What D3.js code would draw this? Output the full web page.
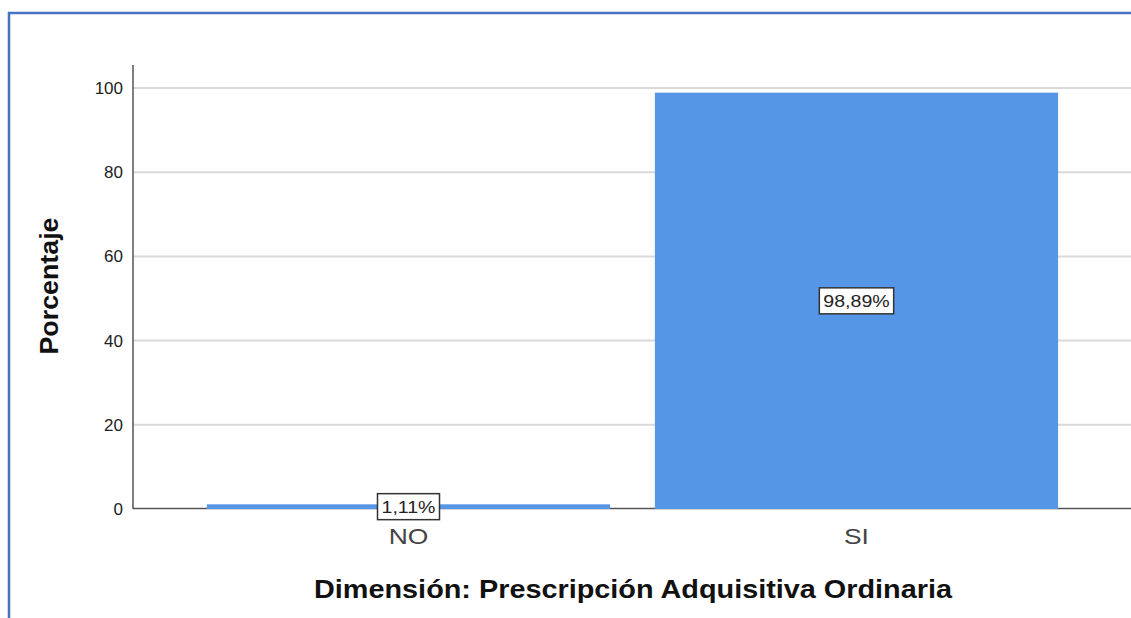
<!DOCTYPE html>
<html lang="es">
<head>
  <meta charset="UTF-8" />
  <title>Dimensión: Prescripción Adquisitiva Ordinaria</title>
  <script src="https://d3js.org/d3.v7.min.js"></script>
  <style>
    body { margin: 0; background: #fff; }
    svg { display: block; font-family: "Liberation Sans", Arial, sans-serif; }
  </style>
</head>
<body>
  <div id="chart"></div>
  <script>
    // Datos
    const categorias = ["NO", "SI"];
    const porcentajes = [1.11, 98.89];
    const etiquetas = ["1,11%", "98,89%"];
    const ticksY = [0, 20, 40, 60, 80, 100];

    const width = 1131, height = 618;
    const axisX = 133, plotTop = 65, plotBottom = 509;

    // estira el texto a lo ancho (la imagen original está algo ensanchada)
    function stretch(sel, k) {
      sel.each(function () {
        const w = this.getComputedTextLength();
        d3.select(this).attr("textLength", w * k).attr("lengthAdjust", "spacingAndGlyphs");
      });
    }

    const svg = d3.select("#chart").append("svg")
      .attr("width", width).attr("height", height);

    // Marco azul
    svg.append("path")
      .attr("d", `M9,${height + 2} V13 H${width + 2}`)
      .attr("fill", "none")
      .attr("stroke", "#4472c4")
      .attr("stroke-width", 2.5);

    const x = d3.scaleBand()
      .domain(categorias)
      .range([184.5, 1080.5])
      .paddingInner(0.1)
      .paddingOuter(0.05);

    const y = d3.scaleLinear()
      .domain([0, 100])
      .range([plotBottom, 88]);

    // Líneas de cuadrícula
    svg.append("g")
      .selectAll("line")
      .data(ticksY.filter(d => d > 0))
      .join("line")
      .attr("x1", axisX).attr("x2", width)
      .attr("y1", d => y(d)).attr("y2", d => y(d))
      .attr("stroke", "#d9d9d9")
      .attr("stroke-width", 2);

    // Eje Y
    const yAxis = svg.append("g")
      .attr("transform", `translate(${axisX},0)`)
      .call(d3.axisLeft(y).tickValues(ticksY).tickSize(0).tickPadding(10));
    yAxis.select(".domain").remove();
    yAxis.selectAll("text")
      .attr("font-size", 17)
      .attr("fill", "#222")
      .attr("font-family", "Liberation Sans, Arial, sans-serif");
    svg.append("line")
      .attr("x1", axisX).attr("x2", axisX)
      .attr("y1", plotTop).attr("y2", plotBottom)
      .attr("stroke", "#555").attr("stroke-width", 1.5);

    // Línea base
    svg.append("line")
      .attr("x1", axisX).attr("x2", width)
      .attr("y1", plotBottom - 0.5).attr("y2", plotBottom - 0.5)
      .attr("stroke", "#555").attr("stroke-width", 1.5);

    // Barras
    svg.append("g")
      .selectAll("rect")
      .data(categorias)
      .join("rect")
      .attr("x", d => x(d))
      .attr("width", x.bandwidth())
      .attr("y", (d, i) => y(porcentajes[i]))
      .attr("height", (d, i) => y(0) - y(porcentajes[i]))
      .attr("fill", "#5596e6");

    // Etiquetas de valores
    const lab = svg.append("g")
      .selectAll("g")
      .data(categorias)
      .join("g")
      .attr("transform", (d, i) => {
        const cy = (y(0) + y(porcentajes[i])) / 2;
        return `translate(${x(d) + x.bandwidth() / 2},${cy})`;
      });
    const labTxt = lab.append("text")
      .attr("text-anchor", "middle")
      .attr("dy", "0.36em")
      .attr("font-size", 17)
      .attr("fill", "#222")
      .text((d, i) => etiquetas[i]);
    stretch(labTxt, 1.15);
    labTxt.each(function () {
      const b = this.getBBox();
      d3.select(this.parentNode).insert("rect", "text")
        .attr("x", b.x - 4).attr("y", -13)
        .attr("width", b.width + 8).attr("height", 26)
        .attr("fill", "#fff")
        .attr("stroke", "#333")
        .attr("stroke-width", 1.5);
    });

    // Categorías eje X
    const cat = svg.append("g")
      .selectAll("text")
      .data(categorias)
      .join("text")
      .attr("x", d => x(d) + x.bandwidth() / 2)
      .attr("y", 544)
      .attr("text-anchor", "middle")
      .attr("font-size", 22)
      .attr("fill", "#444")
      .text(d => d);
    stretch(cat, 1.2);

    // Títulos de ejes
    const tx = svg.append("text")
      .attr("x", 633).attr("y", 598)
      .attr("text-anchor", "middle")
      .attr("font-size", 25)
      .attr("font-weight", "bold")
      .attr("fill", "#111")
      .text("Dimensión: Prescripción Adquisitiva Ordinaria");
    stretch(tx, 638 / tx.node().getComputedTextLength());

    const ty = svg.append("text")
      .attr("transform", "translate(58,286) rotate(-90)")
      .attr("text-anchor", "middle")
      .attr("font-size", 25)
      .attr("font-weight", "bold")
      .attr("fill", "#111")
      .text("Porcentaje");
    stretch(ty, 137 / ty.node().getComputedTextLength());
  </script>
</body>
</html>
